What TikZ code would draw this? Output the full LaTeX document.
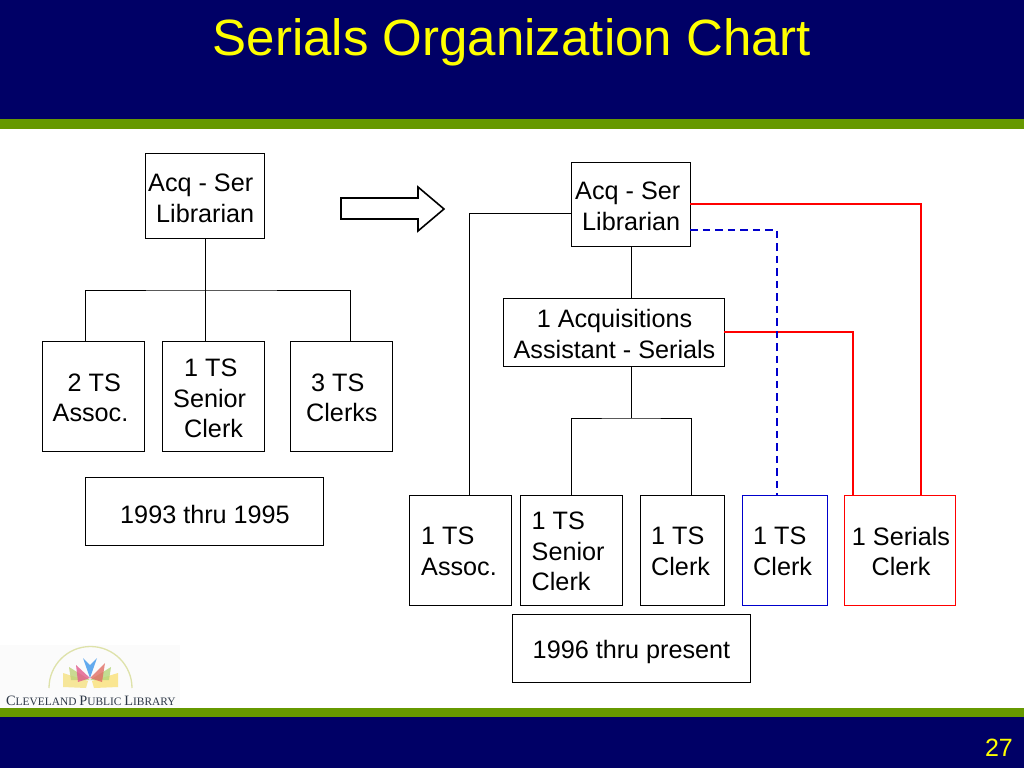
\documentclass[tikz,border=0pt]{standalone}
\usepackage{fontspec}
\setmainfont{Liberation Sans}
\newfontfamily\logofont{Liberation Serif}
\definecolor{navy}{HTML}{000066}
\definecolor{leaf}{HTML}{669900}
\definecolor{redline}{HTML}{FF0000}
\definecolor{blueline}{HTML}{0000CC}
\tikzset{
  boxbase/.style={draw=#1,line width=0.9pt,fill=white,inner sep=0pt,outer sep=0pt},
  txt/.style={font=\fontsize{25.2}{30.5}\selectfont,inner sep=0pt,align=left,anchor=west,text=black},
  txtc/.style={font=\fontsize{25.2}{30.5}\selectfont,inner sep=0pt,align=center,anchor=center,text=black},
  link/.style={draw=black,line width=0.8pt},
  redlink/.style={draw=redline,line width=1.2pt},
  bluelink/.style={draw=blueline,line width=1.2pt,dash pattern=on 7.5pt off 5pt},
  petal/.style={draw=none,fill opacity=0.8}
}
\newcommand{\pbox}[6][black]{% colour, name, x1,y1,x2,y2
  \node[boxbase=#1,minimum width={(#5-#3-0.7)*1pt},minimum height={(#6-#4-0.7)*1pt}] (#2) at ({(#3+#5)/2-0.3},{(#4+#6)/2-0.3}) {};
}
\begin{document}
\begin{tikzpicture}[x=1pt,y=-1pt]
\useasboundingbox (0,0) rectangle (1024,768);
\fill[white] (0,0) rectangle (1024,768);
% bands
\fill[navy] (0,0) rectangle (1024,119);
\fill[leaf] (0,119) rectangle (1024,129);
\fill[leaf] (0,708) rectangle (1024,717);
\fill[navy] (0,717) rectangle (1024,768);
\node[font=\fontsize{51}{55}\selectfont,text={rgb,255:red,255;green,255;blue,0},inner sep=0pt] (title) at (512,42) {Serials Organization Chart};
\node[font=\fontsize{25}{30}\selectfont,text={rgb,255:red,255;green,255;blue,0},inner sep=0pt,anchor=east] (pageno) at (1013,748) {27};
% logo
\fill[black!1.5] (0,645) rectangle (180,708);
\draw[draw={rgb,255:red,222;green,226;blue,170},line width=1.3pt] (49,688) arc[start angle=180,end angle=360,radius=41.5];
\fill[petal,fill={rgb,255:red,245;green,225;blue,130}] (88,681) -- (63,673) -- (63,687) -- (86,688) -- cycle;
\fill[petal,fill={rgb,255:red,250;green,225;blue,120}] (92,681) -- (118,673) -- (118,687) -- (94,688) -- cycle;
\fill[petal,fill={rgb,255:red,190;green,210;blue,120}] (90,680) -- (69,667) -- (71,680) -- cycle;
\fill[petal,fill={rgb,255:red,180;green,215;blue,120}] (90,680) -- (111,667) -- (109,680) -- cycle;
\fill[petal,fill={rgb,255:red,225;green,90;blue,140}] (90,678) -- (76,665) -- (78,682) -- cycle;
\fill[petal,fill={rgb,255:red,225;green,110;blue,100}] (90,678) -- (105,663) -- (102,682) -- cycle;
\fill[petal,fill={rgb,255:red,60;green,150;blue,235}] (90,678) -- (83,658) -- (90,665) -- (97,658) -- cycle;
\node[font=\logofont,text={rgb,255:red,45;green,55;blue,70},inner sep=0pt,anchor=base west] (logotext) at (6,705) {\fontsize{14.3}{15}\selectfont C\fontsize{11.4}{15}\selectfont LEVELAND \fontsize{14.3}{15}\selectfont P\fontsize{11.4}{15}\selectfont UBLIC \fontsize{14.3}{15}\selectfont L\fontsize{11.4}{15}\selectfont IBRARY};
% left tree
\pbox{la}{145}{153}{265}{239}
\pbox{lb}{42}{341}{145}{452}
\pbox{lc}{162}{341}{265}{452}
\pbox{ld}{290}{341}{393}{452}
\pbox{ldate}{85}{477}{324}{546}
\coordinate (lh) at (205,290);
\coordinate (lm) at (205,341);
\draw[link] (la.south -| lh) -- (lm);
\draw[link] (85,341) |- (lh) -| (350,341);
\node[txt] (lat) at (148,198.5) {Acq - Ser\\\hspace*{8pt}Librarian};
\node[txt] (lbt) at (52.5,398) {\hspace*{15pt}2 TS\\Assoc.};
\node[txt] (lct) at (173,398.5) {\hspace*{11pt}1 TS\\Senior\\\hspace*{11pt}Clerk};
\node[txt] (ldt) at (306,398) {\hspace*{5pt}3 TS\\Clerks};
\node[txtc] (ldatet) at (205,514) {1993 thru 1995};
% block arrow
\draw[draw=black,line width=1.6pt,fill=white,line join=miter] (341,198) -- (418,198) -- (418,187) -- (444,209) -- (418,231) -- (418,219) -- (341,219) -- cycle;
% right tree
\pbox{ra}{571}{162}{691}{247}
\pbox{rb}{503}{298}{725}{367}
\pbox{rc}{409}{495}{512}{606}
\pbox{rd}{520}{495}{623}{606}
\pbox{re}{640}{495}{725}{606}
\pbox[blueline]{rf}{742}{495}{828}{606}
\pbox[redline]{rg}{844}{495}{956}{606}
\pbox{rdate}{512}{614}{751}{683}
\coordinate (c1) at (469,213);
\coordinate (c2) at (631,418);
\coordinate (c3) at (921,204);
\coordinate (c4) at (853,332);
\coordinate (c5) at (777,230);
\draw[link] (ra.west |- c1) -- (c1) -- (c1 |- rc.north);
\draw[link] (ra.south -| c2) -- (rb.north -| c2);
\draw[link] (rb.south -| c2) -- (c2);
\draw[link] (571,495) |- (c2) -| (691,495);
\draw[redlink] (ra.east |- c3) -- (c3) -- (c3 |- rg.north);
\draw[redlink] (rb.east |- c4) -- (c4) -- (c4 |- rg.north);
\draw[bluelink] (ra.east |- c5) -- (c5) -- (c5 |- rf.north);
\node[txt] (rat) at (575,206.5) {Acq - Ser\\\hspace*{7pt}Librarian};
\node[txtc] (rbt) at (614.5,334) {1 Acquisitions\\Assistant - Serials};
\node[txt] (rct) at (421,551.5) {1 TS\\Assoc.};
\node[txt] (rdt) at (531.5,551.5) {1 TS\\Senior\\Clerk};
\node[txt] (ret) at (651,551.5) {1 TS\\Clerk};
\node[txt] (rft) at (753,551.5) {1 TS\\Clerk};
\node[txtc] (rgt) at (901,551.5) {1 Serials\\Clerk};
\node[txtc] (rdatet) at (631.5,651.5) {1996 thru present};
\end{tikzpicture}
\end{document}
